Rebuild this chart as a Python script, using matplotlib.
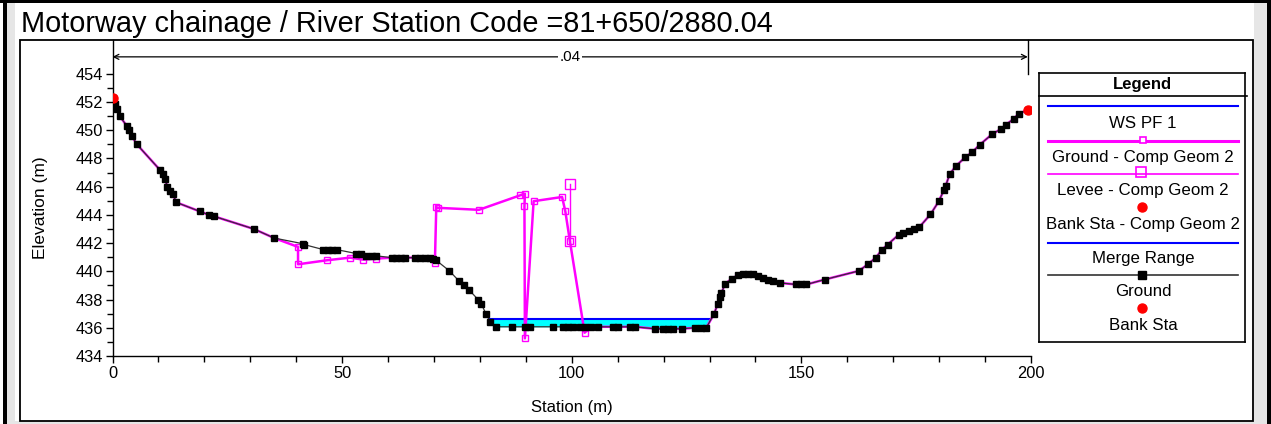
import numpy as np
import matplotlib
matplotlib.use("Agg")
import matplotlib.pyplot as plt
from matplotlib.patches import Rectangle

plt.rcParams['font.family'] = ['Liberation Sans', 'DejaVu Sans']

# ---------------- data ----------------
title = "Motorway chainage / River Station Code =81+650/2880.04"
x_label = "Station (m)"
y_label = "Elevation (m)"
n_label = ".04"

ground_sta = [0.0, 0.5, 1.05, 1.6, 3.1, 3.6, 4.2, 5.3, 10.3, 10.9, 11.5, 11.9, 12.5, 13.2, 13.8,
              19.0, 21.0, 22.1, 30.8, 35.2, 41.4, 41.7, 45.9, 47.0, 47.9, 48.8, 53.1, 54.2, 55.3,
              56.4, 57.4, 60.8, 61.8, 62.9, 63.6, 65.8, 66.9, 68.0, 69.1, 69.8, 70.4, 73.3, 75.5,
              76.5, 77.6, 79.6, 80.3, 81.3, 82.3, 83.5, 86.9, 89.8, 90.9, 95.9, 98.1, 99.2, 100.3,
              101.7, 102.8, 104.3, 105.7, 109.0, 110.1, 112.6, 113.7, 118.1, 119.9, 121.0, 122.0,
              123.9, 126.8, 128.2, 129.3, 131.0, 131.8, 132.2, 132.6, 133.3, 134.9, 136.2, 137.3,
              138.4, 139.5, 140.5, 141.6, 142.7, 143.8, 145.3, 148.9, 150.0, 151.1, 155.1, 162.5,
              164.5, 166.2, 167.6, 168.8, 171.2, 172.2, 173.4, 174.6, 175.7, 178.1, 179.9, 181.0,
              181.4, 182.3, 183.7, 185.7, 187.2, 188.8, 191.6, 193.5, 194.6, 196.2, 197.3, 199.3]
ground_elev = [452.26, 451.86, 451.5, 451.0, 450.3, 450.0, 449.6, 449.0, 447.2, 446.9, 446.55, 446.0,
               445.7, 445.5, 444.9, 444.25, 444.0, 443.9, 443.0, 442.36, 441.96, 441.9, 441.54,
               441.54, 441.54, 441.54, 441.26, 441.2, 441.1, 441.1, 441.1, 440.97, 440.97, 440.97,
               440.97, 440.97, 440.97, 440.97, 440.97, 440.9, 440.8, 440.05, 439.3, 439.0, 438.7,
               438.0, 437.7, 437.0, 436.4, 436.07, 436.07, 436.07, 436.07, 436.07, 436.07, 436.07,
               436.07, 436.07, 436.07, 436.07, 436.07, 436.07, 436.07, 436.07, 436.07, 435.93,
               435.93, 435.93, 435.93, 435.93, 436.0, 436.0, 436.0, 437.0, 437.7, 438.2, 438.43,
               439.09, 439.49, 439.72, 439.8, 439.8, 439.78, 439.68, 439.56, 439.42, 439.3, 439.18,
               439.07, 439.07, 439.07, 439.42, 440.03, 440.5, 440.97, 441.54, 441.9, 442.6, 442.7,
               442.85, 442.97, 443.14, 444.03, 444.95, 445.73, 446.04, 446.9, 447.48, 448.09,
               448.44, 448.96, 449.74, 450.09, 450.4, 450.8, 451.15, 451.46]

# Ground - Comp Geom 2 (where it departs from the ground survey)
geom2_mid_sta = [40.4, 40.4, 46.6, 51.7, 54.6, 57.4]
geom2_mid_elev = [441.73, 440.5, 440.78, 440.97, 440.83, 440.9]
geom2_levee_sta = [70.2, 70.5, 70.9, 79.8, 88.7, 89.8, 89.7, 89.8, 91.7, 97.9, 98.6, 99.6, 102.8]
geom2_levee_elev = [440.62, 444.55, 444.5, 444.36, 445.38, 445.5, 444.6, 435.25, 444.97, 445.27,
                    444.25, 442.14, 435.65]

levee_sta = [99.6, 99.6]
levee_elev = [446.17, 442.14]

bank_sta = [0.0, 199.3]
bank_elev = [452.26, 451.46]

ws_elev = 436.6
merge_range = [0.0, 199.3]

legend_labels = ["WS PF 1", "Ground - Comp Geom 2", "Levee - Comp Geom 2",
                 "Bank Sta - Comp Geom 2", "Merge Range", "Ground", "Bank Sta"]

# ---------------- figure ----------------
W, H = 1271, 424
fig = plt.figure(figsize=(W / 100, H / 100), dpi=100)
fig.patch.set_facecolor("white")


def rect(x0, y0, x1, y1):
    return [x0 / W, 1 - y1 / H, (x1 - x0) / W, (y1 - y0) / H]


def fig_rect(x0, y0, x1, y1, **kw):
    fig.patches.append(Rectangle((x0 / W, 1 - y1 / H), (x1 - x0) / W, (y1 - y0) / H,
                                 transform=fig.transFigure, figure=fig, **kw))


# window-like frame
fig_rect(7, 3, 15, 424, facecolor="#e6e6e6", edgecolor="none")
fig_rect(1254, 3, 1267, 424, facecolor="#e6e6e6", edgecolor="none")
fig_rect(7, 421, 1267, 424, facecolor="#e6e6e6", edgecolor="none")
fig_rect(0, 0, W, 3, facecolor="black", edgecolor="none")
fig_rect(3, 0, 7, 424, facecolor="black", edgecolor="none")
fig_rect(1267, 0, W, 424, facecolor="black", edgecolor="none")
fig_rect(20, 39.5, 1253, 421, facecolor="none", edgecolor="black", linewidth=1.3)

fig.text(21 / W, 1 - 24.5 / H, title, fontsize=20.8, va="center", ha="left")

ax = fig.add_axes(rect(112.5, 39.5, 1031, 356))
ax.set_xlim(0, 200)
ax.set_ylim(434, 456.43)
ax.set_facecolor("none")
for s in ["top", "right"]:
    ax.spines[s].set_visible(False)
ax.spines["left"].set_linewidth(1.0)
ax.spines["bottom"].set_linewidth(1.0)
ax.set_xticks([0, 50, 100, 150, 200])
ax.set_xticks(np.arange(0, 201, 10), minor=True)
ax.set_yticks(np.arange(434, 455, 2))
ax.set_yticks(np.arange(434, 455, 1), minor=True)
ax.tick_params(axis="both", which="major", length=5, width=1, labelsize=11.8, pad=2)
ax.tick_params(axis="both", which="minor", length=4, width=1)
ax.set_xlabel(x_label, fontsize=12, labelpad=14)
fig.text(40 / W, 1 - 208 / H, y_label, fontsize=12.5, rotation=90, ha="center", va="center")

gs = np.array(ground_sta)
ge = np.array(ground_elev)

# water surface
below = ge <= ws_elev
idx = np.where(below)[0]
i0, i1 = idx[0], idx[-1]
x_left = np.interp(ws_elev, [ge[i0], ge[i0 - 1]], [gs[i0], gs[i0 - 1]])
x_right = np.interp(ws_elev, [ge[i1], ge[i1 + 1]], [gs[i1], gs[i1 + 1]])
fine_x = np.linspace(x_left, x_right, 400)
fine_g = np.interp(fine_x, gs, ge)
ax.fill_between(fine_x, fine_g, ws_elev, where=fine_g <= ws_elev, color="#00ffff",
                linewidth=0, zorder=2)
ax.plot([x_left, x_right], [ws_elev, ws_elev], color="#0000ff", lw=1.5, zorder=3)

# Ground - Comp Geom 2 path
left_mask = gs <= 35.2
mid_mask = (gs >= 60.8) & (gs <= 69.8)
right_mask = gs >= 104.3
g2x = np.concatenate([gs[left_mask], geom2_mid_sta, gs[mid_mask], geom2_levee_sta, gs[right_mask]])
g2y = np.concatenate([ge[left_mask], geom2_mid_elev, ge[mid_mask], geom2_levee_elev, ge[right_mask]])
ax.plot(g2x, g2y, color="#ff00ff", lw=1.8, zorder=4)
ax.plot(geom2_mid_sta + geom2_levee_sta, geom2_mid_elev + geom2_levee_elev, ls="none",
        marker="s", ms=5, mfc="none", mec="#ff00ff", mew=1.0, zorder=4)
ax.plot(levee_sta, levee_elev, color="#ff00ff", lw=1.0, marker="s", ms=7, mfc="none",
        mec="#ff00ff", mew=1.0, zorder=4)

# ground
ax.plot(gs, ge, color="#333333", lw=0.9, marker="s", ms=5, mfc="black", mec="black", zorder=5)
ax.plot(bank_sta, bank_elev, ls="none", marker="o", ms=6.5, color="#ff0000", zorder=6)

# n-value / merge range annotation
y_arrow = 455.2
ax.plot([merge_range[1], merge_range[1]], [454.0, 456.43], color="black", lw=1.0, clip_on=False)
ax.annotate("", xy=(merge_range[0], y_arrow), xytext=(merge_range[1], y_arrow),
            arrowprops=dict(arrowstyle="<->", color="black", lw=0.9, shrinkA=0, shrinkB=0,
                            mutation_scale=9))
ax.text((merge_range[0] + merge_range[1]) / 2, y_arrow, n_label, fontsize=11, ha="center",
        va="center", bbox=dict(facecolor="white", edgecolor="none", pad=1))

# ---------------- legend box ----------------
lx0, ly0, lx1, ly1 = 1039, 73, 1245, 342
lax = fig.add_axes(rect(lx0, ly0, lx1, ly1))
lax.set_xlim(lx0, lx1)
lax.set_ylim(ly1, ly0)
lax.set_xticks([])
lax.set_yticks([])
for s in lax.spines.values():
    s.set_linewidth(1.2)
lax.text((lx0 + lx1) / 2, 84, "Legend", fontsize=12, fontweight="bold", ha="center", va="center")
lax.plot([lx0, lx1 + 2], [96, 96], color="black", lw=1.2, clip_on=False)

xa, xb, xc = 1048, 1238, 1143
fs = 12.2
# WS PF 1
lax.plot([xa, xb], [106, 106], color="#0000ff", lw=1.5)
lax.text(xc, 123, legend_labels[0], fontsize=fs, ha="center", va="center")
# Ground - Comp Geom 2
lax.plot([xa, xb], [141, 141], color="#ff00ff", lw=2.2)
lax.plot([xc], [140], marker="s", ms=5, mfc="white", mec="#ff00ff", mew=1.2)
lax.text(xc, 157, legend_labels[1], fontsize=fs, ha="center", va="center")
# Levee - Comp Geom 2
lax.plot([xa, xb], [174, 174], color="#ff00ff", lw=1.2)
lax.plot([xc - 2], [172], marker="s", ms=7, mfc="none", mec="#ff00ff", mew=1.2)
lax.text(xc, 190, legend_labels[2], fontsize=fs, ha="center", va="center")
# Bank Sta - Comp Geom 2
lax.plot([xc - 1], [207], marker="o", ms=6.5, color="#ff0000")
lax.text(xc, 224, legend_labels[3], fontsize=fs, ha="center", va="center")
# Merge Range
lax.plot([xa, xb], [243, 243], color="#0000ff", lw=1.5)
lax.text(xc, 258, legend_labels[4], fontsize=fs, ha="center", va="center")
# Ground
lax.plot([xa, xb], [275, 275], color="#333333", lw=1.2)
lax.plot([xc - 1], [275], marker="s", ms=5.5, color="black")
lax.text(xc, 291, legend_labels[5], fontsize=fs, ha="center", va="center")
# Bank Sta
lax.plot([xc - 1], [308], marker="o", ms=6.5, color="#ff0000")
lax.text(xc, 325, legend_labels[6], fontsize=fs, ha="center", va="center")

fig.savefig("out.png", dpi=100)
